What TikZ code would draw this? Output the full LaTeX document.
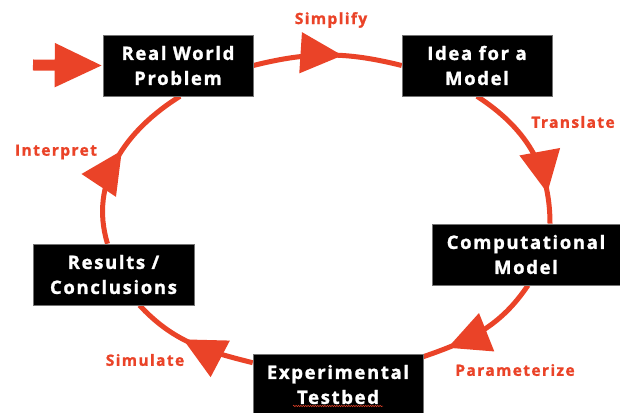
\documentclass[tikz,border=0pt]{standalone}
\usepackage{fontspec}
\newfontfamily\heavyfont{Open Sans}[LetterSpace=9,BoldFeatures={FakeBold=1.3}]
\usetikzlibrary{arrows.meta,decorations.markings,decorations.pathmorphing,backgrounds}
\definecolor{cycred}{RGB}{234,67,40}

\begin{document}
\begin{tikzpicture}[x=1pt,y=1pt,
  stage/.style={fill=black,draw=black!55,line width=0.6pt,text=white,align=center,
    inner sep=0pt,minimum height=61pt,font=\heavyfont\bfseries\fontsize{18.5}{25}\selectfont},
  verb/.style={text=cycred,font=\heavyfont\bfseries\fontsize{15.5}{17}\selectfont},
  cyc/.style={color=cycred,line width=5pt,postaction={decorate},
    decoration={markings,mark=at position #1 with {\arrow{Triangle[length=42pt,width=40pt]}}}},
  entry/.style={cycred,line width=11pt,-{Triangle[length=48pt,width=41pt]}},
]
\useasboundingbox (0,0) rectangle (620,412);
\node[stage,minimum width=150pt] (real) at (178,346.5) {Real World\\Problem};
\node[stage,minimum width=150pt] (idea) at (477,346.5) {Idea for a\\Model};
\node[stage,minimum width=188pt] (comp) at (526,157.5) {Computational\\Model};
\node[stage,minimum width=170pt] (exp) at (338,27.5) {Experimental\\Testbed};
\node[stage,minimum width=161pt] (res) at (113.5,137.5) {Results /\\Conclusions};
% the cycle
\begin{scope}[on background layer]
\draw[cyc=0.6] (real.east) to[out=14,in=166] (idea.west);
\draw[cyc=0.8] (idea.south) to[out=-33,in=90] ([xshift=24pt]comp.north);
\draw[cyc=0.8] ([xshift=2pt]comp.south) to[out=236,in=19] ([yshift=-3pt]exp.north east);
\draw[cyc=0.57] ([yshift=-9pt]exp.north west) to[out=166,in=-47] ([xshift=26pt]res.south);
\draw[cyc=0.55] ([xshift=-6pt]res.north) to[out=107,in=212] ([xshift=2pt]real.south);
\end{scope}
\coordinate (start) at (33,347);
\draw[entry] (start) -- (real.west);
\node[verb] (simplify) at (331,392) {Simplify};
\node[verb] (translate) at (573,290) {Translate};
\node[verb] (param) at (515,42) {Parameterize};
\node[verb] (simulate) at (145,52) {Simulate};
\node[verb] (interpret) at (56,260) {Interpret};
\draw[cycred,line width=0.5pt,decorate,decoration={snake,amplitude=0.7pt,segment length=2.4pt}]
  (293,6) -- (383,6);
\end{tikzpicture}
\end{document}
